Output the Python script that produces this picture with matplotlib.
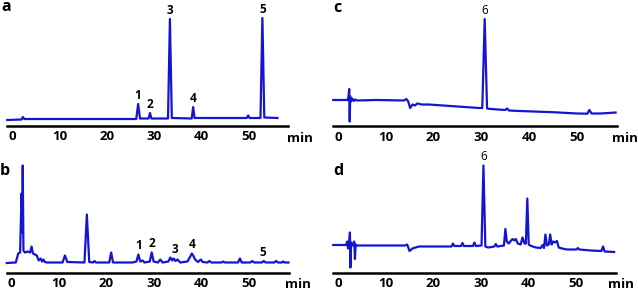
import matplotlib
matplotlib.use("Agg")
import matplotlib.pyplot as plt
import numpy as np

plt.rcParams["font.family"] = ["Open Sans", "DejaVu Sans"]

# retention time (min) and detector signal (arbitrary units)
a_time = [-1.0, 2.0, 2.3, 2.6,
          26.2, 26.6, 27.0,
          28.8, 29.1, 29.4,
          32.9, 33.3, 33.7,
          37.9, 38.2, 38.5,
          49.5, 49.8, 50.1,
          52.4, 52.8, 53.2, 56.0]
a_signal = [6, 6.5, 9, 7,
            7, 22, 7.5,
            7.5, 13, 7.5,
            7.5, 107, 8,
            7.5, 19, 8,
            8, 10.5, 8,
            8, 108, 8.5, 8]

b_time = [-0.9, 1.0, 1.5, 1.9, 2.2, 2.35, 2.45, 2.6, 2.9, 3.5,
          4.0, 4.3, 4.6, 5.0, 5.4, 5.8, 6.2, 6.5, 6.8, 7.1, 7.5,
          10.8, 11.3, 11.8, 15.4, 15.9, 16.4, 17.2, 17.5, 17.8,
          20.6, 21.0, 21.4, 25.5, 26.3, 26.7, 27.1, 27.6, 28.0,
          29.1, 29.5, 29.9, 30.8, 31.3, 31.8,
          33.0, 33.4, 33.8, 34.1, 34.5, 34.9, 35.5,
          37.0, 37.6, 37.9, 38.2, 38.6, 39.2, 39.8, 40.2,
          41.2, 41.6, 42.0, 44.2, 44.5, 44.8, 47.6, 48.0, 48.4,
          50.2, 50.6, 51.0, 52.6, 53.0, 53.4, 55.2, 55.6, 56.0,
          56.8, 57.1, 57.4, 58.2]
b_signal = [9.5, 10, 19, 20, 79, 40, 107, 22, 20, 21,
            20, 26, 19, 18, 17, 12, 14, 11, 13, 10.5, 10,
            10, 17, 10.5, 10, 58, 10.5, 10, 11.5, 10,
            10, 20, 10, 10, 11, 18, 11, 12, 10,
            11, 20, 11, 10, 13, 10,
            11, 15, 12, 14, 11.5, 13, 10,
            11, 16, 19, 17, 13, 10.5, 13, 10.5,
            10, 11.5, 10, 10, 11, 10, 10, 14, 10,
            10, 11.5, 10, 10, 11.5, 10, 10, 11.5, 10,
            10, 11, 10, 10]

c_time = [-1.0, 2.0, 2.2, 2.35, 2.45, 2.55, 2.7, 3.0, 3.3, 3.6, 4.0,
          8.0, 13.8, 14.3, 14.7, 15.1, 15.6, 16.1, 16.6, 17.5, 19.0,
          25.0, 29.5, 30.2, 30.7, 31.2, 32.0,
          35.0, 35.4, 35.8, 38.0, 45.0, 50.0, 52.2, 52.6, 53.1, 55.0, 58.1]
c_signal = [26.5, 26.5, 30, 37.5, 5, 30, 25, 28, 25.5, 27, 26,
            26.5, 26, 27.5, 25, 18.5, 22, 21, 23, 22, 22,
            20, 18.5, 18.5, 107.5, 18, 17.5,
            16.5, 18, 16, 15.5, 14.3, 13, 12.8, 16.5, 13, 13, 14]

d_time = [-1.0, 1.7, 1.95, 2.1, 2.3, 2.5, 2.6, 2.75, 3.1, 3.4, 3.55, 3.7, 4.0,
          14.0, 14.5, 15.0, 15.6, 17.0, 23.8, 24.1, 24.4, 25.8, 26.1, 26.4,
          28.3, 28.6, 28.9, 30.1, 30.5, 30.9, 31.5, 32.8, 33.1, 33.4,
          34.8, 35.1, 35.4, 35.8, 36.3, 36.6, 37.0, 37.3, 37.7, 38.3, 38.7,
          39.1, 39.4, 39.7, 40.0, 40.5, 41.5, 42.5, 42.9, 43.2, 43.5, 43.8,
          44.2, 44.5, 44.8, 45.1, 45.5, 45.9, 46.3, 47.0, 48.0, 50.0, 50.3,
          50.6, 53.0, 55.2, 55.6, 55.9, 57.9]
d_signal = [27.5, 27.5, 31, 24, 27, 40, 5, 30, 27, 31, 13.5, 28, 27,
            27, 28, 21.5, 24, 26, 26, 29, 26.5, 26.5, 29.5, 26.5,
            26.5, 30, 26.5, 27, 107, 26, 25, 26, 28.5, 26,
            27, 43.5, 31, 29, 32, 33.5, 32, 33.5, 29, 28, 35,
            29, 29, 74, 28, 26.5, 25, 24.5, 27.5, 24.5, 38, 27,
            28, 38, 28, 31, 30, 31.5, 25, 24, 23, 23, 24.5,
            23, 22, 21.5, 26, 21, 20.5]

# numbered peaks
a_peak_labels = ["1", "2", "3", "4", "5"]
a_peak_times = [26.6, 29.1, 33.3, 38.2, 52.8]
b_peak_labels = ["1", "2", "3", "4", "5"]
b_peak_times = [26.7, 29.5, 34.4, 37.9, 52.9]
c_peak_labels = ["6"]
c_peak_times = [30.7]
d_peak_labels = ["6"]
d_peak_times = [30.5]

tick_values = [0, 10, 20, 30, 40, 50]

W, H = 638, 290
TRACE = "#1414d2"


def px_axes(fig, left, right, top, bottom):
    return fig.add_axes([left / W, 1 - bottom / H, (right - left) / W, (bottom - top) / H])


def draw_panel(fig, box, xlim, time, signal, labels, peaks, letter, letter_xy,
               min_xy, label_weight):
    ax = px_axes(fig, *box)
    ax.plot(time, signal, color=TRACE, lw=1.6, solid_joinstyle="round", clip_on=False)
    ax.set_xlim(*xlim)
    ax.set_ylim(0, 116)
    for s in ["top", "left", "right"]:
        ax.spines[s].set_visible(False)
    ax.spines["bottom"].set_linewidth(1.8)
    ax.set_yticks([])
    ax.set_xticks(tick_values)
    ax.set_xticklabels([str(v) for v in tick_values], fontsize=9.5, fontweight="bold")
    ax.tick_params(axis="x", length=0, pad=3)
    ax.patch.set_alpha(0)

    t = np.array(time)
    s = np.array(signal)
    for lab, pt in zip(labels, peaks):
        near = np.abs(t - pt) <= 0.8
        top = s[near].max()
        ax.annotate(lab, (pt, top), xytext=(0, 1.5), textcoords="offset points",
                    ha="center", va="bottom", fontsize=8.5, fontweight=label_weight)

    fig.text(letter_xy[0] / W, 1 - letter_xy[1] / H, letter, fontsize=11.5,
             fontweight="bold", ha="center", va="center")
    fig.text(min_xy[0] / W, 1 - min_xy[1] / H, "min", fontsize=9.5,
             fontweight="bold", ha="center", va="center")
    return ax


fig = plt.figure(figsize=(W / 100, H / 100), dpi=100)

draw_panel(fig, (7, 288, 10, 126), (-1.05, 58.2), a_time, a_signal,
           a_peak_labels, a_peak_times, "a", (6, 7), (300, 138), "bold")
draw_panel(fig, (7, 289, 156.5, 272.5), (-0.85, 58.3), b_time, b_signal,
           b_peak_labels, b_peak_times, "b", (5, 171), (298, 284), "bold")
draw_panel(fig, (333, 617, 10.5, 126.5), (-1.05, 58.4), c_time, c_signal,
           c_peak_labels, c_peak_times, "c", (337, 8), (625, 138), "normal")
draw_panel(fig, (333, 616, 156.5, 272.5), (-1.05, 58.3), d_time, d_signal,
           d_peak_labels, d_peak_times, "d", (338, 171), (621, 284), "normal")

fig.savefig("out.png", dpi=100)
